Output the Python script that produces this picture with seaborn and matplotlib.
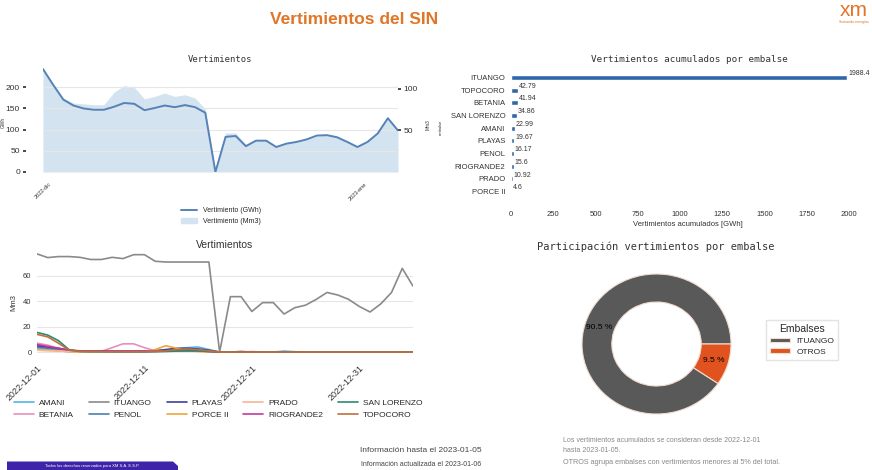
import pandas as pd
import matplotlib
matplotlib.use("Agg")
import matplotlib.pyplot as plt
from matplotlib.lines import Line2D
from matplotlib.patches import Patch, Polygon
import seaborn as sns

sns.set_theme(style="white")
plt.rcParams["font.family"] = ["Liberation Sans", "DejaVu Sans"]
MONO = "DejaVu Sans Mono"

# ---------------- data ----------------
fechas = pd.date_range("2022-12-01", "2023-01-05", freq="D")

# Total daily spill of the system
vertimiento_gwh = [243, 206, 171, 157, 150, 147, 147, 154, 163, 161, 146, 151,
                   157, 153, 158, 153, 140, 0, 83, 85, 61, 74, 74, 59,
                   67, 71, 77, 86, 87, 82, 71, 59, 71, 91, 127, 98]
vertimiento_mm3 = [125, 106, 89, 83, 82, 81, 81, 96, 104, 102, 88, 91,
                   95, 91, 93, 89, 76, 0, 47, 47, 33, 39, 39, 31,
                   34, 36, 39, 43, 45, 42, 37, 31, 37, 47, 65, 50]

# Daily spill per reservoir [Mm3]
amani = [3.0, 2.0, 1.0, 0.5, 0.3, 0.3, 0.3, 0.3, 0.3, 0.3, 0.5, 0.8,
         1.5, 2.5, 3.5, 4.0, 2.0, 0, 0, 0, 0, 0, 0, 0.8,
         0.3, 0, 0, 0, 0, 0, 0, 0, 0, 0, 0, 0]
betania = [7.0, 5.5, 3.0, 1.0, 0.5, 0.5, 0.6, 3.5, 6.5, 6.5, 3.5, 1.0,
           1.5, 2.5, 2.5, 2.0, 1.0, 0, 0, 0, 0.4, 0, 0, 0,
           0, 0, 0, 0, 0, 0, 0, 0, 0, 0, 0, 0]
ituango = [77.4, 74.5, 75.3, 75.3, 74.7, 73.0, 73.0, 74.7, 73.7, 76.8, 76.8, 71.6,
           71.0, 71.0, 71.0, 71.0, 71.0, 0, 43.7, 43.7, 32.0, 39.0, 39.0, 30.0,
           35.0, 37.0, 41.6, 47.0, 45.0, 41.6, 36.0, 31.6, 38.0, 47.0, 66.0, 52.0]
penol = [4.0, 3.0, 2.0, 1.0, 0.5, 0.5, 0.5, 0.5, 0.5, 0.5, 0.5, 0.8,
         1.5, 2.0, 2.0, 1.5, 1.0, 0, 0, 0, 0, 0, 0, 0,
         0, 0, 0, 0, 0, 0, 0, 0, 0, 0, 0, 0]
playas = [5.0, 4.0, 3.0, 1.5, 0.8, 0.8, 0.8, 0.8, 0.8, 0.8, 0.8, 1.0,
          2.0, 3.0, 3.0, 2.5, 1.5, 0, 0, 0, 0, 0, 0, 0,
          0, 0, 0, 0, 0, 0, 0, 0, 0, 0, 0, 0]
porce_ii = [2.0, 1.5, 1.0, 0.3, 0, 0, 0, 0, 0, 0, 0, 2.0,
            5.0, 3.0, 1.0, 0.5, 0, 0, 0, 0, 0, 0, 0, 0,
            0, 0, 0, 0, 0, 0, 0, 0, 0, 0, 0, 0]
prado = [1.5, 1.0, 0.8, 0.5, 0.3, 0.3, 0.3, 0.3, 0.3, 0.3, 0.3, 0.5,
         0.8, 1.0, 1.0, 0.8, 0.5, 0, 0, 0, 0, 0, 0, 0,
         0, 0, 0, 0, 0, 0, 0, 0, 0, 0, 0, 0]
riogrande2 = [6.0, 4.5, 3.0, 1.5, 1.0, 0.8, 0.8, 0.8, 0.8, 0.8, 0.8, 0.8,
              1.0, 1.0, 1.0, 1.0, 0.5, 0, 0, 0.5, 0, 0, 0, 0,
              0, 0, 0, 0, 0, 0, 0, 0, 0, 0, 0, 0]
san_lorenzo = [15.5, 13.4, 9.0, 1.8, 0.5, 0.3, 0.3, 0.2, 0.2, 0.2, 0.2, 0.3,
               0.5, 0.8, 1.0, 1.0, 0.5, 0, 0, 0, 0, 0, 0, 0,
               0, 0, 0, 0, 0, 0, 0, 0, 0, 0, 0, 0]
topocoro = [14.0, 12.0, 7.0, 1.5, 0.5, 0.5, 0.4, 0.4, 0.4, 0.4, 0.4, 0.5,
            1.0, 2.0, 2.5, 2.0, 1.0, 0, 0, 0, 0, 0, 0, 0,
            0, 0, 0, 0, 0, 0, 0, 0, 0, 0, 0, 0]

# Accumulated spill per reservoir [GWh]
embalses_acum = ["ITUANGO", "TOPOCORO", "BETANIA", "SAN LORENZO", "AMANI",
                 "PLAYAS", "PENOL", "RIOGRANDE2", "PRADO", "PORCE II"]
acumulado_gwh = [1988.4, 42.79, 41.94, 34.86, 22.99, 19.67, 16.17, 15.6, 10.92, 4.6]

ticks_mes = ["2022-12-01", "2023-01-01"]
etiquetas_mes = ["2022-dic", "2023-ene"]
ticks_dia = ["2022-12-01", "2022-12-11", "2022-12-21", "2022-12-31"]

# ---------------- figure helpers ----------------
W, H = 872, 470
fig = plt.figure(figsize=(W / 100, H / 100), dpi=100)
fig.patch.set_facecolor("white")


def px_axes(x0, y0, x1, y1):
    return fig.add_axes([x0 / W, 1 - y1 / H, (x1 - x0) / W, (y1 - y0) / H])


def ftext(x, y, s, **kw):
    return fig.text(x / W, 1 - y / H, s, **kw)


GRID = "#e6e6e6"
TXT = "#333333"

# ---------------- header ----------------
ftext(354, 19, "Vertimientos del SIN", ha="center", va="center",
      fontsize=12.5, fontweight="bold", color="#e07628")
ftext(854, 11, "xm", ha="center", va="center", fontsize=15, color="#e2742a")
ftext(854, 22, "Sumando energías", ha="center", va="center", fontsize=2.5,
      color="#e2742a")

# ---------------- top-left: total spill ----------------
LINE_C = "#5583b8"
FILL_C = "#d3e3f0"
ax1 = px_axes(43, 64, 398, 172)
ax2 = ax1.twinx()
ax2.fill_between(fechas, vertimiento_mm3, color=FILL_C, lw=0)
sns.lineplot(x=fechas, y=vertimiento_gwh, ax=ax1, color=LINE_C, lw=1.4)
ax1.set_zorder(ax2.get_zorder() + 1)
ax1.patch.set_visible(False)
ax1.set_xlim(fechas[0], fechas[-1])
ax1.set_ylim(0, 255)
ax2.set_ylim(0, 130)
ax1.set_yticks([0, 50, 100, 150, 200])
ax2.set_yticks([50, 100])
ax1.set_xticks(pd.to_datetime(ticks_mes))
ax1.set_xticklabels(etiquetas_mes, rotation=45, ha="center")
ax1.grid(axis="y", color=GRID, lw=0.8)
ax1.grid(axis="x", visible=False)
for a in (ax1, ax2):
    for s in a.spines.values():
        s.set_visible(False)
ax1.spines["left"].set_position(("outward", 12.5))
ax1.tick_params(axis="y", labelsize=6, length=2.5, pad=1.5, colors=TXT)
ax1.tick_params(axis="x", labelsize=4, length=3, pad=4, colors=TXT)
ax2.tick_params(axis="y", labelsize=6, length=2.5, pad=1.5, colors=TXT)
ax1.set_xlabel("")
ax1.set_ylabel("")
ax2.set_ylabel("")
ftext(3, 122, "GWh", rotation=90, ha="center", va="center", fontsize=3.5, color=TXT)
ftext(428, 125, "Mm3", rotation=90, ha="center", va="center", fontsize=3.5, color=TXT)
ftext(220, 59, "Vertimientos", ha="center", va="center", fontsize=6.4,
      family=MONO, color=TXT)
fig.legend([Line2D([], [], color=LINE_C, lw=1.4), Patch(color=FILL_C)],
           ["Vertimiento (GWh)", "Vertimiento (Mm3)"],
           loc="center", bbox_to_anchor=(221 / W, 1 - 216 / H), frameon=False,
           fontsize=5, handlelength=2.4, labelspacing=0.5)

# ---------------- top-right: accumulated bars ----------------
BAR_C = "#2f67a8"
axb = px_axes(511, 71, 864, 198)
df_acum = pd.DataFrame({"embalse": embalses_acum, "acumulado": acumulado_gwh})
sns.barplot(data=df_acum, x="acumulado", y="embalse", ax=axb, color=BAR_C,
            width=0.4, saturation=1)
for i, v in enumerate(acumulado_gwh):
    axb.text(v + 6, i - 0.3, f"{v:g}", fontsize=5, va="center", ha="left", color=TXT)
axb.set_xlim(0, 2088)
axb.set_xticks([0, 250, 500, 750, 1000, 1250, 1500, 1750, 2000])
for s in axb.spines.values():
    s.set_visible(False)
axb.spines["bottom"].set_position(("outward", 4))
axb.tick_params(axis="y", labelsize=5.5, length=2.5, pad=1.5, colors=TXT)
axb.tick_params(axis="x", labelsize=5.5, length=1.5, pad=4, colors=TXT)
axb.set_xlabel("Vertimientos acumulados [GWh]", fontsize=5.5, color=TXT, labelpad=2)
axb.set_ylabel("")
ftext(441, 127, "embalse", rotation=90, ha="center", va="center", fontsize=3,
      color=TXT)
ftext(689, 59, "Vertimientos acumulados por embalse", ha="center", va="center",
      fontsize=6.7, family=MONO, color=TXT)

# ---------------- bottom-left: spill per reservoir ----------------
series = {
    "AMANI": amani, "BETANIA": betania, "ITUANGO": ituango, "PENOL": penol,
    "PLAYAS": playas, "PORCE II": porce_ii, "PRADO": prado,
    "RIOGRANDE2": riogrande2, "SAN LORENZO": san_lorenzo, "TOPOCORO": topocoro,
}
palette = {
    "AMANI": "#56b4e9", "BETANIA": "#e78fc0", "ITUANGO": "#8a8a8a",
    "PENOL": "#4c7fb0", "PLAYAS": "#3f3fa3", "PORCE II": "#f4a33c",
    "PRADO": "#f6b894", "RIOGRANDE2": "#c23a9e", "SAN LORENZO": "#2b8a6c",
    "TOPOCORO": "#bf6f3d",
}
df_emb = pd.DataFrame(series, index=fechas).reset_index(names="fecha")
df_emb = df_emb.melt(id_vars="fecha", var_name="embalse", value_name="Mm3")

axl = px_axes(37, 249, 413, 357)
sns.lineplot(data=df_emb, x="fecha", y="Mm3", hue="embalse",
             hue_order=list(series), palette=palette, lw=1.2, ax=axl)
axl.set_xlim(fechas[0], fechas[-1])
axl.set_yticks([0, 20, 40, 60])
axl.set_xticks(pd.to_datetime(ticks_dia))
axl.set_xticklabels(ticks_dia, rotation=45, ha="right", rotation_mode="anchor")
axl.grid(axis="y", color=GRID, lw=0.8)
axl.grid(axis="x", visible=False)
for s in axl.spines.values():
    s.set_visible(False)
axl.tick_params(axis="y", labelsize=5.5, length=2.5, pad=1.5, colors=TXT)
axl.tick_params(axis="x", labelsize=6.5, length=2.5, pad=2, colors=TXT)
axl.set_xlabel("")
axl.set_ylabel("Mm3", fontsize=5.5, color=TXT, labelpad=4)
handles, labels = axl.get_legend_handles_labels()
axl.get_legend().remove()
fig.legend(handles, labels, ncol=5, loc="center",
           bbox_to_anchor=(218 / W, 1 - 409 / H), frameon=False, fontsize=6,
           handlelength=2.4, handletextpad=0.6, columnspacing=1.8,
           labelspacing=0.5)
ftext(225, 245, "Vertimientos", ha="center", va="center", fontsize=7.5, color=TXT)

# ---------------- bottom-right: share donut ----------------
participacion = [acumulado_gwh[0], sum(acumulado_gwh[1:])]
grupos = ["ITUANGO", "OTROS"]
axp = px_axes(582, 274, 731, 414)
wedges, _, autotexts = axp.pie(
    participacion, colors=["#595959", "#e0531f"], autopct="%1.1f %%",
    pctdistance=0.8, wedgeprops=dict(width=0.4, edgecolor="#f3dcd0", linewidth=0.8),
    textprops=dict(fontsize=6, color="black"))
axp.set_aspect("auto")
axp.set_xlim(-1, 1)
axp.set_ylim(-1, 1)
fig.legend(wedges, grupos, title="Embalses", loc="center",
           bbox_to_anchor=(802 / W, 1 - 340 / H), fontsize=6, title_fontsize=7.5,
           frameon=True, edgecolor="#dddddd", fancybox=False, handlelength=2.4,
           handleheight=0.5, labelspacing=0.4, borderpad=0.5)
ftext(656, 247, "Participación vertimientos por embalse", ha="center",
      va="center", fontsize=7.5, family=MONO, color=TXT)

# ---------------- footer ----------------
ftext(421, 451, "Información hasta el 2023-01-05", ha="center", va="center",
      fontsize=6, color="#444444")
ftext(421, 464, "Información actualizada el 2023-01-06", ha="center", va="center",
      fontsize=5, color="#444444")
ftext(563, 440, "Los vertimientos acumulados se consideran desde 2022-12-01",
      ha="left", va="center", fontsize=5, color="#888888")
ftext(563, 450, "hasta 2023-01-05.", ha="left", va="center", fontsize=5,
      color="#888888")
ftext(563, 463, "OTROS agrupa embalses con vertimientos menores al 5% del total.",
      ha="left", va="center", fontsize=5.2, color="#888888")

banner = Polygon([(7 / W, 0), (7 / W, 1 - 461.5 / H), (173 / W, 1 - 461.5 / H),
                  (178 / W, 1 - 466 / H), (178 / W, 0)], closed=True,
                 transform=fig.transFigure, facecolor="#3d24a8", edgecolor="none")
fig.patches.append(banner)
ftext(92, 466, "Todos los derechos reservados para XM S.A. E.S.P.", ha="center",
      va="center", fontsize=3, color="white")

fig.savefig("out.png", dpi=100, facecolor="white")
